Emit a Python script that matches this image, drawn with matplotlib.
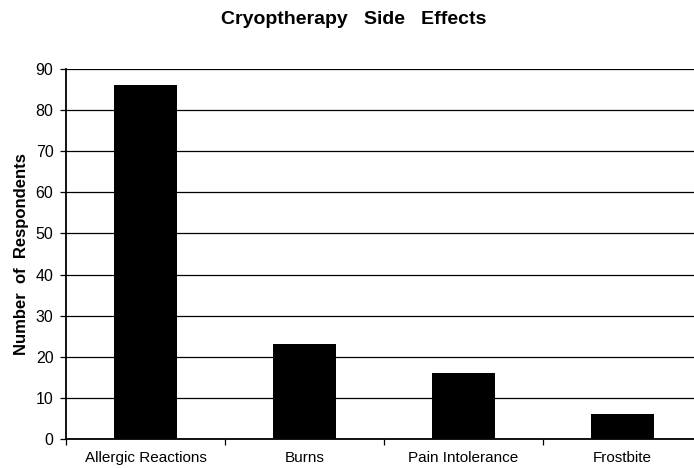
import matplotlib
matplotlib.use("Agg")
import matplotlib.pyplot as plt
import numpy as np

categories = ["Allergic Reactions", "Burns", "Pain Intolerance", "Frostbite"]
values = [86, 23, 16, 6]
yticks = [0, 10, 20, 30, 40, 50, 60, 70, 80, 90]

plt.rcParams['font.family'] = ['Liberation Sans', 'DejaVu Sans']

fig = plt.figure(figsize=(6.94, 4.68), dpi=100)
ax = fig.add_axes([66/694, 29/468, 636/694, 370/468])

x = np.arange(len(categories))
ax.bar(x, values, width=0.4, color='black', zorder=3)
ax.set_xlim(-0.5, len(categories) - 0.5)
ax.set_ylim(0, 90)
ax.set_yticks(yticks)
ax.set_yticklabels([str(t) for t in yticks], fontsize=11.5)
ax.yaxis.grid(True, color='black', linewidth=0.9, zorder=0)
ax.set_axisbelow(True)

ax.set_xticks(np.arange(-0.5, len(categories) + 0.5, 1))
ax.set_xticklabels([])
ax.set_xticks(x, minor=True)
ax.set_xticklabels(categories, minor=True, fontsize=11)
ax.tick_params(axis='x', which='minor', length=0, pad=8.5)
ax.tick_params(axis='x', which='major', length=4, width=0.9, direction='out')
ax.tick_params(axis='y', length=4, width=0.9, direction='out', pad=5)

for s in ['top', 'right']:
    ax.spines[s].set_visible(False)
ax.spines['left'].set_linewidth(1.3)
ax.spines['bottom'].set_linewidth(1.3)

ax.set_ylabel("Number  of  Respondents", fontsize=12, fontweight='bold', labelpad=5)
fig.text(354/694, 1 - 20/468, "Cryoptherapy   Side   Effects", ha='center', va='center',
         fontsize=14, fontweight='bold')

fig.savefig("out.png", dpi=100)
